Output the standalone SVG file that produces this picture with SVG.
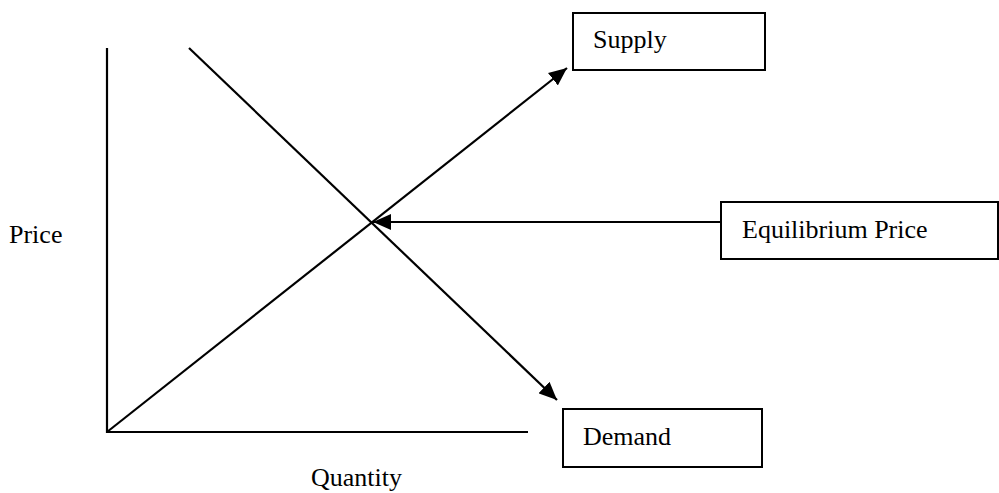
<svg xmlns="http://www.w3.org/2000/svg" width="999" height="493" viewBox="0 0 999 493">
<style>
.ln{stroke:#000;stroke-width:2.2;fill:none}
.box{stroke:#000;stroke-width:2;fill:#fff}
.t{font-family:"Liberation Serif","Times New Roman",serif;font-size:26px;fill:#000}
</style>
<defs>
<marker id="ah" markerUnits="userSpaceOnUse" markerWidth="20" markerHeight="16" refX="18" refY="8" orient="auto">
<path d="M0,0 L18,8 L0,16 Z" fill="#000"/>
</marker>
</defs>
<rect width="999" height="493" fill="#fff"/>
<g id="axes">
<line class="ln" x1="107" y1="48" x2="107" y2="433"/>
<line class="ln" x1="106" y1="432" x2="528" y2="432"/>
<text class="t" x="9" y="243">Price</text>
<text class="t" x="311" y="486">Quantity</text>
</g>
<g id="connectors">
<line class="ln" x1="107" y1="432" x2="567" y2="68" marker-end="url(#ah)"/>
<line class="ln" x1="189" y1="48" x2="557" y2="400" marker-end="url(#ah)"/>
<line class="ln" x1="720" y1="222" x2="373" y2="222" marker-end="url(#ah)"/>
</g>
<g id="supply">
<rect class="box" x="573" y="13" width="192" height="57"/>
<text class="t" x="593" y="48">Supply</text>
</g>
<g id="equilibrium">
<rect class="box" x="721" y="202" width="277" height="57"/>
<text class="t" x="742" y="238">Equilibrium Price</text>
</g>
<g id="demand">
<rect class="box" x="563" y="409" width="199" height="58"/>
<text class="t" x="583" y="445">Demand</text>
</g>
</svg>
